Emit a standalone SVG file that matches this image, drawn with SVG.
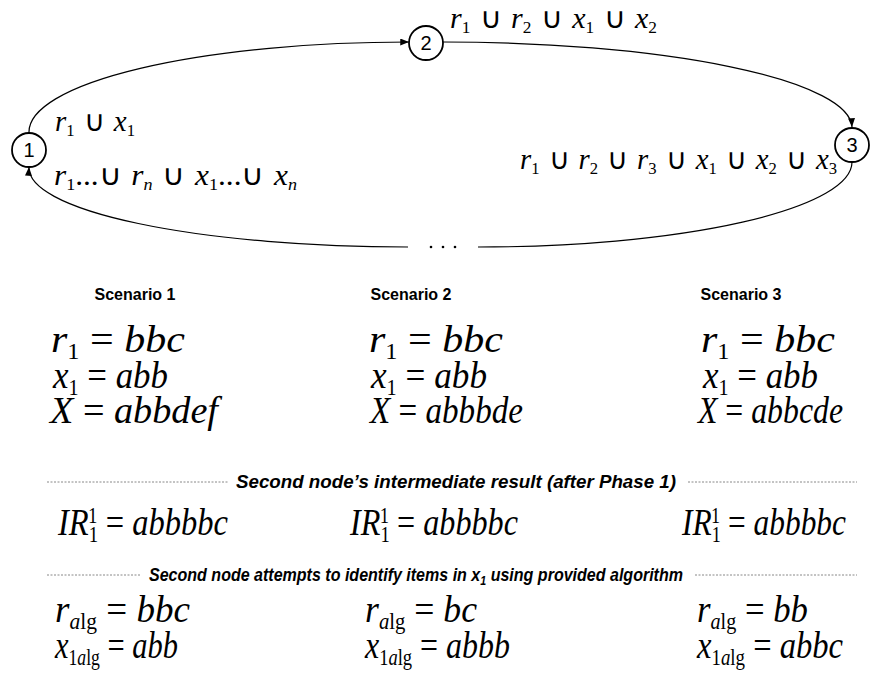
<svg xmlns="http://www.w3.org/2000/svg" width="873" height="675" viewBox="0 0 873 675">
  <style>
    .node circle { fill: #fff; stroke: #000; stroke-width: 1.8; }
    .node text { font-family: "Liberation Sans", Arial, sans-serif; font-size: 20px; text-anchor: middle; fill: #000; }
    .edge { fill: none; stroke: #000; stroke-width: 1.2; }
    .lbl { font-family: "Liberation Serif", "Times New Roman", serif; font-style: italic; font-size: 29px; fill: #000; }
    .eq { font-family: "Liberation Serif", "Times New Roman", serif; font-style: italic; font-size: 38px; fill: #000; }
    .up { font-style: normal; }
    .cup { font-style: normal; font-family: "DejaVu Sans", sans-serif; font-weight: 200; }
    .sub { font-style: normal; font-size: 0.58em; }
    .subi { font-size: 0.58em; }
    .head { font-family: "Liberation Sans", Arial, sans-serif; font-weight: bold; font-size: 16px; text-anchor: middle; fill: #000; }
    .note { font-family: "Liberation Sans", Arial, sans-serif; font-weight: bold; font-style: italic; font-size: 18px; fill: #000; }
    .dash { stroke: #888; stroke-width: 1; stroke-dasharray: 2 1.5; fill: none; }
  </style>
  <defs>
    <marker id="arrow" viewBox="0 0 10 8" refX="10" refY="4" markerWidth="9" markerHeight="7" markerUnits="userSpaceOnUse" orient="auto">
      <path d="M0,0 L10,4 L0,8 z" fill="#000"/>
    </marker>
  </defs>

  <!-- ring of connectors -->
  <g id="connectors">
    <path class="edge" d="M29,132 A380,90 0 0 1 409,42" marker-end="url(#arrow)"/>
    <path class="edge" d="M443,42 A409,86 0 0 1 852,127" marker-end="url(#arrow)"/>
    <path class="edge" d="M852,162 A374,85 0 0 1 478,247"/>
    <path class="edge" d="M408,247 A379,79 0 0 1 29,167" marker-end="url(#arrow)"/>
    <circle cx="431" cy="247" r="1.3" fill="#000"/>
    <circle cx="443" cy="247" r="1.3" fill="#000"/>
    <circle cx="455" cy="247" r="1.3" fill="#000"/>
  </g>

  <g id="node1" class="node">
    <circle cx="29" cy="150" r="17"/>
    <text x="29" y="157">1</text>
  </g>
  <g id="node2" class="node">
    <circle cx="426" cy="43" r="17"/>
    <text x="426" y="50">2</text>
  </g>
  <g id="node3" class="node">
    <circle cx="852" cy="145" r="17"/>
    <text x="852" y="152">3</text>
  </g>

  <!-- edge labels -->
  <text class="lbl" x="55" y="131" textLength="80" lengthAdjust="spacingAndGlyphs">r<tspan class="sub" dy="5">1</tspan><tspan class="cup" dy="-5"> ∪ </tspan>x<tspan class="sub" dy="5">1</tspan></text>
  <text class="lbl" x="54" y="185" textLength="243" lengthAdjust="spacingAndGlyphs">r<tspan class="sub" dy="5">1</tspan><tspan class="up" dy="-5">...</tspan><tspan class="cup">∪ </tspan>r<tspan class="subi" dy="5">n</tspan><tspan class="cup" dy="-5"> ∪ </tspan>x<tspan class="sub" dy="5">1</tspan><tspan class="up" dy="-5">...</tspan><tspan class="cup">∪ </tspan>x<tspan class="subi" dy="5">n</tspan></text>
  <text class="lbl" x="450" y="28" textLength="207" lengthAdjust="spacingAndGlyphs">r<tspan class="sub" dy="5">1</tspan><tspan class="cup" dy="-5"> ∪ </tspan>r<tspan class="sub" dy="5">2</tspan><tspan class="cup" dy="-5"> ∪ </tspan>x<tspan class="sub" dy="5">1</tspan><tspan class="cup" dy="-5"> ∪ </tspan>x<tspan class="sub" dy="5">2</tspan></text>
  <text class="lbl" x="520" y="169" textLength="317" lengthAdjust="spacingAndGlyphs">r<tspan class="sub" dy="5">1</tspan><tspan class="cup" dy="-5"> ∪ </tspan>r<tspan class="sub" dy="5">2</tspan><tspan class="cup" dy="-5"> ∪ </tspan>r<tspan class="sub" dy="5">3</tspan><tspan class="cup" dy="-5"> ∪ </tspan>x<tspan class="sub" dy="5">1</tspan><tspan class="cup" dy="-5"> ∪ </tspan>x<tspan class="sub" dy="5">2</tspan><tspan class="cup" dy="-5"> ∪ </tspan>x<tspan class="sub" dy="5">3</tspan></text>

  <!-- scenario headings -->
  <text class="head" x="135" y="300">Scenario 1</text>
  <text class="head" x="411" y="300">Scenario 2</text>
  <text class="head" x="741" y="300">Scenario 3</text>

  <!-- scenario 1 -->
  <text class="eq" x="51" y="352" font-size="40" textLength="134" lengthAdjust="spacingAndGlyphs">r<tspan class="sub" dy="7">1</tspan><tspan class="up" dy="-7"> = </tspan>bbc</text>
  <text class="eq" x="53" y="388" font-size="37" textLength="115" lengthAdjust="spacingAndGlyphs">x<tspan class="sub" dy="7">1</tspan><tspan class="up" dy="-7"> = </tspan>abb</text>
  <text class="eq" x="50" y="423" textLength="168" lengthAdjust="spacingAndGlyphs">X<tspan class="up"> = </tspan>abbdef</text>
  <!-- scenario 2 -->
  <text class="eq" x="369" y="352" font-size="40" textLength="134" lengthAdjust="spacingAndGlyphs">r<tspan class="sub" dy="7">1</tspan><tspan class="up" dy="-7"> = </tspan>bbc</text>
  <text class="eq" x="371" y="388" font-size="37" textLength="116" lengthAdjust="spacingAndGlyphs">x<tspan class="sub" dy="7">1</tspan><tspan class="up" dy="-7"> = </tspan>abb</text>
  <text class="eq" x="370" y="423" textLength="153" lengthAdjust="spacingAndGlyphs">X<tspan class="up"> = </tspan>abbbde</text>
  <!-- scenario 3 -->
  <text class="eq" x="701" y="352" font-size="40" textLength="134" lengthAdjust="spacingAndGlyphs">r<tspan class="sub" dy="7">1</tspan><tspan class="up" dy="-7"> = </tspan>bbc</text>
  <text class="eq" x="703" y="388" font-size="37" textLength="115" lengthAdjust="spacingAndGlyphs">x<tspan class="sub" dy="7">1</tspan><tspan class="up" dy="-7"> = </tspan>abb</text>
  <text class="eq" x="698" y="423" textLength="145" lengthAdjust="spacingAndGlyphs">X<tspan class="up"> = </tspan>abbcde</text>

  <!-- phase 1 separator -->
  <line class="dash" x1="47" y1="482" x2="228" y2="482"/>
  <line class="dash" x1="688" y1="482" x2="857" y2="482"/>
  <text class="note" x="236" y="488" textLength="440" lengthAdjust="spacingAndGlyphs">Second node’s intermediate result (after Phase 1)</text>

  <!-- intermediate results -->
  <text class="eq" x="58" y="535" textLength="170" lengthAdjust="spacingAndGlyphs">IR<tspan class="sub" dy="7">1</tspan><tspan class="sub" dx="-11" dy="-19">1</tspan><tspan class="up" dy="12"> = </tspan>abbbbc</text>
  <text class="eq" x="350" y="535" textLength="168" lengthAdjust="spacingAndGlyphs">IR<tspan class="sub" dy="7">1</tspan><tspan class="sub" dx="-11" dy="-19">1</tspan><tspan class="up" dy="12"> = </tspan>abbbbc</text>
  <text class="eq" x="682" y="535" textLength="164" lengthAdjust="spacingAndGlyphs">IR<tspan class="sub" dy="7">1</tspan><tspan class="sub" dx="-11" dy="-19">1</tspan><tspan class="up" dy="12"> = </tspan>abbbbc</text>

  <!-- algorithm separator -->
  <line class="dash" x1="47" y1="575" x2="140" y2="575"/>
  <line class="dash" x1="695" y1="575" x2="857" y2="575"/>
  <text class="note" x="149" y="581" textLength="534" lengthAdjust="spacingAndGlyphs">Second node attempts to identify items in x<tspan font-size="12" dy="4">1</tspan><tspan dy="-4"> using provided algorithm</tspan></text>

  <!-- algorithm output -->
  <text class="eq" x="55" y="622" textLength="135" lengthAdjust="spacingAndGlyphs">r<tspan class="subi" dy="7">a</tspan><tspan class="sub">lg</tspan><tspan class="up" dy="-7"> = </tspan>bbc</text>
  <text class="eq" x="55" y="658" textLength="123" lengthAdjust="spacingAndGlyphs">x<tspan class="sub" dy="7">1</tspan><tspan class="subi">a</tspan><tspan class="sub">lg</tspan><tspan class="up" dy="-7"> = </tspan>abb</text>
  <text class="eq" x="365" y="622" textLength="112" lengthAdjust="spacingAndGlyphs">r<tspan class="subi" dy="7">a</tspan><tspan class="sub">lg</tspan><tspan class="up" dy="-7"> = </tspan>bc</text>
  <text class="eq" x="365" y="658" textLength="145" lengthAdjust="spacingAndGlyphs">x<tspan class="sub" dy="7">1</tspan><tspan class="subi">a</tspan><tspan class="sub">lg</tspan><tspan class="up" dy="-7"> = </tspan>abbb</text>
  <text class="eq" x="697" y="622" textLength="111" lengthAdjust="spacingAndGlyphs">r<tspan class="subi" dy="7">a</tspan><tspan class="sub">lg</tspan><tspan class="up" dy="-7"> = </tspan>bb</text>
  <text class="eq" x="697" y="658" textLength="146" lengthAdjust="spacingAndGlyphs">x<tspan class="sub" dy="7">1</tspan><tspan class="subi">a</tspan><tspan class="sub">lg</tspan><tspan class="up" dy="-7"> = </tspan>abbc</text>
</svg>
